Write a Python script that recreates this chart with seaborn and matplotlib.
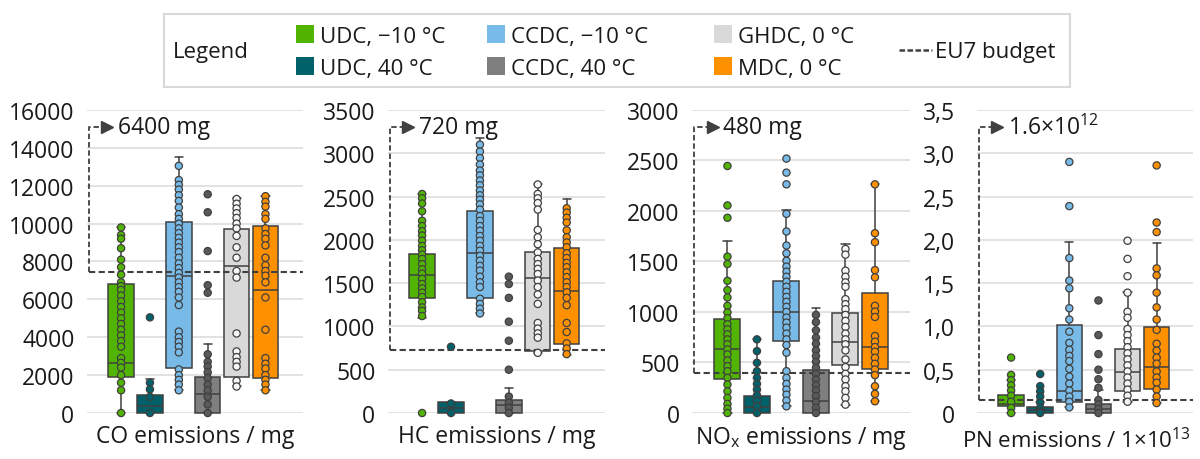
import matplotlib
matplotlib.use("Agg")
import matplotlib.pyplot as plt
from matplotlib.patches import Patch, Rectangle
from matplotlib.lines import Line2D
import seaborn as sns
import pandas as pd

conditions = ["UDC, −10 °C", "UDC, 40 °C", "CCDC, −10 °C", "CCDC, 40 °C", "GHDC, 0 °C", "MDC, 0 °C"]
box_colors = ["#52b402", "#00616b", "#79bbe8", "#7f7f7f", "#d9d9d9", "#ff9100"]
dot_colors = ["#52b402", "#00616b", "#79bbe8", "#595959", "#f7f7f7", "#ff9100"]
line_c = "#404040"

# box stats per condition: [whisker low, Q1, median, Q3, whisker high]
co_box = [[0, 1920, 2620, 6820, 9800], [0, 0, 350, 930, 1800], [1200, 2400, 7220, 10060, 13520],
          [0, 0, 1000, 1890, 3640], [1400, 1890, 7770, 9730, 11370], [1200, 1840, 6500, 9900, 11450]]
co_points = [
    [9800, 9400, 9200, 8700, 8100, 7700, 7300, 6900, 6700, 6500, 6200, 5900, 5600, 5300, 5000,
     4700, 4400, 4100, 3800, 3500, 2900, 2650, 2400, 2000, 1600, 1200, 0],
    [5050, 1600, 1250, 850, 0],
    [13050, 12300, 12050, 11800, 11500, 11200, 10850, 10500, 10250, 10000, 9750, 9500, 9250, 9000,
     8750, 8500, 8200, 7900, 7650, 7400, 7150, 6900, 6650, 6400, 6100, 5700, 4300, 4000, 3750,
     3500, 3200, 2300, 2000, 1750, 1500, 1200],
    [11550, 10600, 8550, 6750, 6350, 3100, 2700, 2450, 2150, 1850, 1500, 1200, 850, 450, 0],
    [11300, 11050, 10800, 10550, 10300, 10000, 9750, 9350, 8750, 8200, 7500, 7150, 4200, 3250,
     2950, 2700, 2450, 1700, 1400],
    [11450, 11150, 10900, 10500, 10250, 9750, 9450, 9200, 8850, 8200, 7800, 7500, 7250, 6900,
     6100, 4400, 2900, 2600, 2350, 2000, 1750, 1500, 1200],
]

hc_box = [[1100, 1330, 1590, 1836, 2530], [0, 0, 60, 125, 130], [1150, 1330, 1847, 2333, 3175],
          [0, 0, 95, 153, 287], [690, 711, 1565, 1855, 2640], [670, 796, 1404, 1905, 2467]]
hc_points = [
    [2530, 2480, 2420, 2330, 2220, 2160, 2100, 2050, 1990, 1930, 1880, 1830, 1780, 1720, 1660,
     1610, 1550, 1490, 1440, 1390, 1340, 1280, 1220, 1180, 1120, 0],
    [765, 110, 0],
    [3100, 3020, 2945, 2870, 2800, 2745, 2685, 2630, 2570, 2515, 2465, 2410, 2350, 2275, 2220,
     2160, 2105, 2045, 1990, 1930, 1875, 1815, 1760, 1700, 1645, 1575, 1510, 1455, 1320, 1260,
     1205, 1150],
    [1575, 1490, 1330, 1055, 835, 500, 190, 120, 60, 0],
    [2640, 2530, 2480, 2425, 2350, 2115, 2030, 1950, 1855, 1780, 1720, 1665, 1605, 1530, 1455,
     1370, 1260, 1040, 975, 920, 870, 695],
    [2365, 2315, 2255, 2200, 2110, 2030, 1970, 1915, 1845, 1790, 1735, 1685, 1625, 1570, 1510,
     1455, 1395, 1330, 1245, 1040, 935, 805, 745, 680],
]

nox_box = [[0, 338, 636, 928, 1700], [0, 0, 60, 166, 729], [66, 713, 1001, 1309, 2006],
           [0, 0, 123, 421, 1044], [83, 474, 706, 995, 1674], [116, 431, 656, 1187, 2264]]
nox_points = [
    [2446, 2055, 1933, 1548, 1475, 1309, 1217, 1144, 1061, 995, 938, 878, 829, 779, 729, 680,
     630, 580, 520, 464, 414, 348, 282, 215, 149, 90, 43, 0],
    [729, 613, 497, 414, 348, 288, 232, 176, 123, 66, 0],
    [2519, 2380, 2264, 1972, 1797, 1658, 1581, 1508, 1449, 1399, 1349, 1300, 1250, 1200, 1150,
     1101, 1051, 1001, 945, 895, 845, 786, 729, 673, 597, 414, 348, 288, 232, 182, 123, 66],
    [971, 900, 819, 746, 686, 620, 564, 507, 448, 388, 332, 275, 222, 166, 109, 50, 0],
    [1624, 1568, 1409, 1349, 1293, 1250, 1127, 1077, 1028, 971, 912, 852, 786, 729, 680, 620,
     530, 454, 388, 332, 265, 215, 149, 83],
    [2264, 1780, 1691, 1415, 1343, 1061, 1004, 951, 762, 706, 653, 607, 547, 487, 431, 375,
     265, 189, 116],
]

pn_box = [[0, 0.077, 0.108, 0.204, 0.385], [0, 0, 0.03, 0.065, 0.123], [0.065, 0.123, 0.258, 1.012, 1.981],
          [0, 0, 0.05, 0.108, 0.262], [0.127, 0.25, 0.473, 0.738, 1.396], [0.115, 0.277, 0.527, 0.992, 1.962]]
pn_points = [
    [0.64, 0.44, 0.38, 0.32, 0.26, 0.2, 0.13, 0.06, 0],
    [0.45, 0.31, 0.25, 0.19, 0.12, 0.06, 0.02, 0],
    [2.9, 2.39, 1.79, 1.53, 1.44, 1.21, 1.08, 0.94, 0.81, 0.73, 0.66, 0.6, 0.51, 0.42, 0.34,
     0.26, 0.19, 0.13, 0.065],
    [1.3, 0.9, 0.68, 0.5, 0.39, 0.29, 0.15, 0.1, 0.05, 0],
    [1.99, 1.78, 1.58, 1.39, 1.17, 1.1, 0.97, 0.9, 0.83, 0.76, 0.69, 0.62, 0.55, 0.48, 0.41,
     0.34, 0.27, 0.2, 0.13],
    [2.86, 2.2, 2.09, 1.67, 1.59, 1.39, 1.22, 1.08, 0.96, 0.8, 0.72, 0.64, 0.57, 0.48, 0.41,
     0.35, 0.27, 0.19, 0.115],
]

budgets = [7420, 723, 395, 0.145]
budget_texts = ["6400 mg", "720 mg", "480 mg", r"1.6×10$^{\mathregular{12}}$"]
xlabels = ["CO emissions / mg", "HC emissions / mg", r"NO$_{\mathregular{x}}$ emissions / mg",
           r"PN emissions / 1×10$^{\mathregular{13}}$"]
ytops = [16000, 3500, 3000, 3.5]
ysteps = [2000, 500, 500, 0.5]
pn_ticklabels = ["0", "0,5", "1,0", "1,5", "2,0", "2,5", "3,0", "3,5"]

sns.set_theme(style="white")
plt.rcParams["font.family"] = ["Open Sans", "DejaVu Sans"]
plt.rcParams["text.color"] = "#1a1a1a"

fig = plt.figure(figsize=(12, 4.6), dpi=100)
positions = [(0.0725, 0.180), (0.3233, 0.181), (0.5767, 0.1817), (0.8142, 0.180)]
xlims = [(-1.18, 6.30), (-1.18, 6.33), (-1.20, 6.19), (-1.17, 6.25)]
panels = [(co_box, co_points), (hc_box, hc_points), (nox_box, nox_points), (pn_box, pn_points)]

for i, (boxes, points) in enumerate(panels):
    ax = fig.add_axes([positions[i][0], 0.1, positions[i][1], 0.6587])
    df = pd.DataFrame([(c, v) for c, vals in zip(conditions, points) for v in vals],
                      columns=["cond", "value"])
    sns.stripplot(data=df, x="cond", y="value", hue="cond", order=conditions, hue_order=conditions,
                  palette=dict(zip(conditions, dot_colors)), jitter=False, size=5.2, linewidth=0.9,
                  edgecolor=line_c, legend=False, ax=ax, zorder=4, clip_on=False)
    stats = [dict(whislo=b[0], q1=b[1], med=b[2], q3=b[3], whishi=b[4], fliers=[]) for b in boxes]
    bp = ax.bxp(stats, positions=range(6), widths=0.88, patch_artist=True, showfliers=False,
                boxprops=dict(edgecolor=line_c, linewidth=1.1),
                whiskerprops=dict(color=line_c, linewidth=1.1),
                capprops=dict(color=line_c, linewidth=1.1),
                medianprops=dict(color=line_c, linewidth=1.1),
                capwidths=0.28, manage_ticks=False)
    for patch, c in zip(bp["boxes"], box_colors):
        patch.set_facecolor(c)
        patch.set_zorder(2)
    for key in ["boxes", "whiskers", "caps", "medians"]:
        for art in bp[key]:
            art.set_clip_on(False)

    top = ytops[i]
    ax.set_ylim(0, top)
    ax.set_xlim(*xlims[i])
    n = int(round(top / ysteps[i]))
    ticks = [k * ysteps[i] for k in range(n + 1)]
    ax.set_yticks(ticks)
    if i == 3:
        ax.set_yticklabels(pn_ticklabels)
    else:
        ax.set_yticklabels([f"{t:.0f}" for t in ticks])
    ax.set_xticks([])
    ax.set_xlabel(xlabels[i], fontsize=16 if i == 3 else 16.5, labelpad=8, color="#1a1a1a")
    if i == 3:
        ax.xaxis.set_label_coords(0.46, -0.045)
        ax.xaxis.label.set_va("top")
    ax.set_ylabel("")
    ax.tick_params(axis="y", length=0, labelsize=16.5, labelcolor="#1a1a1a", pad=16 if i == 3 else 9)
    ax.yaxis.grid(True, color="#e2e2e2", linewidth=1.4)
    ax.set_axisbelow(True)
    for s in ax.spines.values():
        s.set_visible(False)

    # EU7 budget line with the dashed corner arrow
    b = budgets[i]
    span = xlims[i][1] - xlims[i][0]
    x0 = xlims[i][0] + 0.009 * span
    ya = 0.944 * top
    ax.plot([x0, xlims[i][1]], [b, b], color=line_c, lw=1.5, ls=(0, (3, 1.6)), zorder=3)
    ax.plot([x0, x0, x0 + 0.06 * span], [b, ya, ya],
            color=line_c, lw=1.3, ls=(0, (3, 1.6)), zorder=3, clip_on=False)
    ax.plot([x0 + 0.085 * span], [ya], marker=">", ms=8, color=line_c,
            clip_on=False, zorder=3)
    ax.text(0.142, 0.944, budget_texts[i], transform=ax.transAxes, fontsize=16.5,
            va="center", ha="left", color="#1a1a1a")

# legend frame and entries
fig.patches.append(Rectangle((0.1367, 0.8087), 0.755, 0.1587, transform=fig.transFigure,
                             facecolor="white", edgecolor="#d9d9d9", linewidth=1.5, zorder=0))
fig.text(0.144, 0.8848, "Legend", fontsize=16, va="center", ha="left", color="#1a1a1a")
col_x = [0.2467, 0.4058, 0.595]
for k in range(3):
    handles = [Patch(facecolor=box_colors[k * 2 + j], edgecolor="none") for j in range(2)]
    labels = [conditions[k * 2 + j] for j in range(2)]
    fig.legend(handles, labels, loc="center left", bbox_to_anchor=(col_x[k], 0.8848),
               frameon=False, fontsize=16, handlelength=0.8, handleheight=0.85,
               handletextpad=0.27, labelspacing=0.45, borderpad=0, borderaxespad=0)
fig.legend([Line2D([0], [0], color=line_c, lw=1.8, ls=(0, (2.2, 1)))], ["EU7 budget"],
           loc="center left", bbox_to_anchor=(0.749, 0.8848), frameon=False, fontsize=16,
           handlelength=1.5, handletextpad=0.12, borderpad=0, borderaxespad=0)

fig.savefig("out.png", dpi=100, facecolor="white")
